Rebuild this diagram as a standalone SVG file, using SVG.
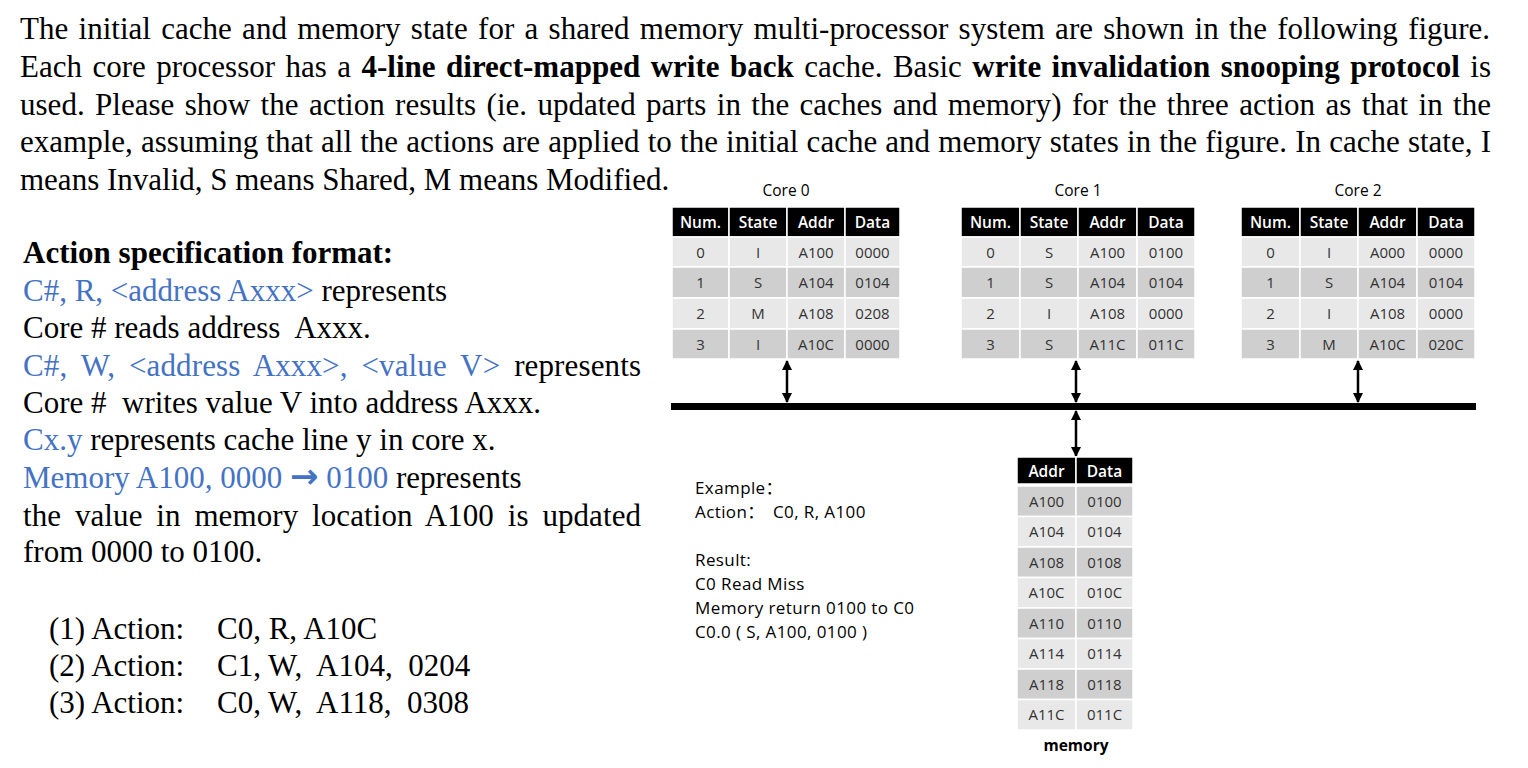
<svg xmlns="http://www.w3.org/2000/svg" width="1528" height="768" viewBox="0 0 1528 768">
<style>
.p{font-family:"Liberation Serif","Times New Roman",serif;font-size:31px;fill:#000}
.b{font-weight:bold}
.bl{fill:#4472C4}
.arw{font-family:"DejaVu Sans",sans-serif;font-weight:bold;font-size:34px}
.hd{fill:#000;stroke:#fff;stroke-width:1.5}
.lt{fill:#e8e8e8;stroke:#fff;stroke-width:1.5}
.dk{fill:#cfcfcf;stroke:#fff;stroke-width:1.5}
.ht{font-family:"Open Sans","Noto Sans CJK SC",sans-serif;font-size:15.5px;font-weight:600;fill:#fff;text-anchor:middle}
.ct{font-family:"Open Sans","Noto Sans CJK SC",sans-serif;font-size:15px;fill:#333;text-anchor:middle}
.tt{font-family:"Open Sans","Noto Sans CJK SC",sans-serif;font-size:15.5px;fill:#000;text-anchor:middle}
.ex{font-family:"Open Sans","Noto Sans CJK SC",sans-serif;font-size:17px;letter-spacing:0.4px;fill:#000}
.ar{stroke:#000;stroke-width:2.5;fill:none;marker-start:url(#ah);marker-end:url(#ah)}
</style>
<defs>
<marker id="ah" viewBox="0 0 10 10" refX="9" refY="5" markerWidth="4" markerHeight="4.4" orient="auto-start-reverse" markerUnits="strokeWidth">
<path d="M0,0 L10,5 L0,10 z" fill="#000"/>
</marker>
</defs>
<rect width="1528" height="768" fill="#fff"/>

<g id="paragraph">
<text class="p" x="20" y="39" word-spacing="2.5" textLength="1470" lengthAdjust="spacing">The initial cache and memory state for a shared memory multi-processor system are shown in the following figure.</text>
<text class="p" x="20" y="77" word-spacing="2.6" textLength="1471" lengthAdjust="spacing">Each core processor has a <tspan class="b">4-line direct-mapped write back</tspan> cache. Basic <tspan class="b">write invalidation snooping protocol</tspan> is</text>
<text class="p" x="20" y="114.5" word-spacing="2.6" textLength="1471" lengthAdjust="spacing">used. Please show the action results (ie. updated parts in the caches and memory) for the three action as that in the</text>
<text class="p" x="20" y="152" word-spacing="0.4" textLength="1471" lengthAdjust="spacing">example, assuming that all the actions are applied to the initial cache and memory states in the figure. In cache state, I</text>
<text class="p" x="20" y="190">means Invalid, S means Shared, M means Modified.</text>
</g>

<g id="spec">
<text class="p b" x="23" y="263">Action specification format:</text>
<text class="p" x="23" y="301"><tspan class="bl">C#, R, &lt;address Axxx&gt;</tspan> represents</text>
<text class="p" x="23" y="338" xml:space="preserve">Core # reads address  Axxx.</text>
<text class="p" x="23" y="376" word-spacing="6" textLength="618" lengthAdjust="spacing"><tspan class="bl">C#, W, &lt;address Axxx&gt;, &lt;value V&gt;</tspan> represents</text>
<text class="p" x="23" y="413" xml:space="preserve">Core #  writes value V into address Axxx.</text>
<text class="p" x="23" y="450"><tspan class="bl">Cx.y</tspan> represents cache line y in core x.</text>
<text class="p" x="23" y="488"><tspan class="bl">Memory A100, 0000 <tspan class="arw">→</tspan> 0100</tspan> represents</text>
<text class="p" x="23" y="526" word-spacing="6" textLength="618" lengthAdjust="spacing">the value in memory location A100 is updated</text>
<text class="p" x="23" y="562">from 0000 to 0100.</text>
</g>

<g id="actions">
<text class="p" x="49" y="639">(1) Action:<tspan x="217">C0, R, A10C</tspan></text>
<text class="p" x="49" y="676" xml:space="preserve">(2) Action:<tspan x="217">C1, W,  A104,  0204</tspan></text>
<text class="p" x="49" y="713" xml:space="preserve">(3) Action:<tspan x="217">C0, W,  A118,  0308</tspan></text>
</g>

<g id="core0">
<text class="tt" x="786" y="196">Core 0</text>
<rect class="hd" x="672" y="207" width="57" height="30"/><rect class="hd" x="729" y="207" width="58" height="30"/><rect class="hd" x="787" y="207" width="58" height="30"/><rect class="hd" x="845" y="207" width="55" height="30"/>
<text class="ht" x="700.5" y="228">Num.</text><text class="ht" x="758" y="228">State</text><text class="ht" x="816" y="228">Addr</text><text class="ht" x="872.5" y="228">Data</text>
<rect class="lt" x="672" y="237" width="57" height="30"/><rect class="lt" x="729" y="237" width="58" height="30"/><rect class="lt" x="787" y="237" width="58" height="30"/><rect class="lt" x="845" y="237" width="55" height="30"/>
<rect class="dk" x="672" y="267" width="57" height="31"/><rect class="dk" x="729" y="267" width="58" height="31"/><rect class="dk" x="787" y="267" width="58" height="31"/><rect class="dk" x="845" y="267" width="55" height="31"/>
<rect class="lt" x="672" y="298" width="57" height="31"/><rect class="lt" x="729" y="298" width="58" height="31"/><rect class="lt" x="787" y="298" width="58" height="31"/><rect class="lt" x="845" y="298" width="55" height="31"/>
<rect class="dk" x="672" y="329" width="57" height="30"/><rect class="dk" x="729" y="329" width="58" height="30"/><rect class="dk" x="787" y="329" width="58" height="30"/><rect class="dk" x="845" y="329" width="55" height="30"/>
<text class="ct" x="700.5" y="257.5">0</text><text class="ct" x="758" y="257.5">I</text><text class="ct" x="816" y="257.5">A100</text><text class="ct" x="872.5" y="257.5">0000</text>
<text class="ct" x="700.5" y="288">1</text><text class="ct" x="758" y="288">S</text><text class="ct" x="816" y="288">A104</text><text class="ct" x="872.5" y="288">0104</text>
<text class="ct" x="700.5" y="319">2</text><text class="ct" x="758" y="319">M</text><text class="ct" x="816" y="319">A108</text><text class="ct" x="872.5" y="319">0208</text>
<text class="ct" x="700.5" y="349.5">3</text><text class="ct" x="758" y="349.5">I</text><text class="ct" x="816" y="349.5">A10C</text><text class="ct" x="872.5" y="349.5">0000</text>
</g>

<g id="core1">
<text class="tt" x="1078" y="196">Core 1</text>
<rect class="hd" x="961" y="207" width="59" height="30"/><rect class="hd" x="1020" y="207" width="58" height="30"/><rect class="hd" x="1078" y="207" width="59" height="30"/><rect class="hd" x="1137" y="207" width="58" height="30"/>
<text class="ht" x="990.5" y="228">Num.</text><text class="ht" x="1049" y="228">State</text><text class="ht" x="1107.5" y="228">Addr</text><text class="ht" x="1166" y="228">Data</text>
<rect class="lt" x="961" y="237" width="59" height="30"/><rect class="lt" x="1020" y="237" width="58" height="30"/><rect class="lt" x="1078" y="237" width="59" height="30"/><rect class="lt" x="1137" y="237" width="58" height="30"/>
<rect class="dk" x="961" y="267" width="59" height="31"/><rect class="dk" x="1020" y="267" width="58" height="31"/><rect class="dk" x="1078" y="267" width="59" height="31"/><rect class="dk" x="1137" y="267" width="58" height="31"/>
<rect class="lt" x="961" y="298" width="59" height="31"/><rect class="lt" x="1020" y="298" width="58" height="31"/><rect class="lt" x="1078" y="298" width="59" height="31"/><rect class="lt" x="1137" y="298" width="58" height="31"/>
<rect class="dk" x="961" y="329" width="59" height="30"/><rect class="dk" x="1020" y="329" width="58" height="30"/><rect class="dk" x="1078" y="329" width="59" height="30"/><rect class="dk" x="1137" y="329" width="58" height="30"/>
<text class="ct" x="990.5" y="257.5">0</text><text class="ct" x="1049" y="257.5">S</text><text class="ct" x="1107.5" y="257.5">A100</text><text class="ct" x="1166" y="257.5">0100</text>
<text class="ct" x="990.5" y="288">1</text><text class="ct" x="1049" y="288">S</text><text class="ct" x="1107.5" y="288">A104</text><text class="ct" x="1166" y="288">0104</text>
<text class="ct" x="990.5" y="319">2</text><text class="ct" x="1049" y="319">I</text><text class="ct" x="1107.5" y="319">A108</text><text class="ct" x="1166" y="319">0000</text>
<text class="ct" x="990.5" y="349.5">3</text><text class="ct" x="1049" y="349.5">S</text><text class="ct" x="1107.5" y="349.5">A11C</text><text class="ct" x="1166" y="349.5">011C</text>
</g>

<g id="core2">
<text class="tt" x="1358" y="196">Core 2</text>
<rect class="hd" x="1241" y="207" width="59" height="30"/><rect class="hd" x="1300" y="207" width="58" height="30"/><rect class="hd" x="1358" y="207" width="59" height="30"/><rect class="hd" x="1417" y="207" width="58" height="30"/>
<text class="ht" x="1270.5" y="228">Num.</text><text class="ht" x="1329" y="228">State</text><text class="ht" x="1387.5" y="228">Addr</text><text class="ht" x="1446" y="228">Data</text>
<rect class="lt" x="1241" y="237" width="59" height="30"/><rect class="lt" x="1300" y="237" width="58" height="30"/><rect class="lt" x="1358" y="237" width="59" height="30"/><rect class="lt" x="1417" y="237" width="58" height="30"/>
<rect class="dk" x="1241" y="267" width="59" height="31"/><rect class="dk" x="1300" y="267" width="58" height="31"/><rect class="dk" x="1358" y="267" width="59" height="31"/><rect class="dk" x="1417" y="267" width="58" height="31"/>
<rect class="lt" x="1241" y="298" width="59" height="31"/><rect class="lt" x="1300" y="298" width="58" height="31"/><rect class="lt" x="1358" y="298" width="59" height="31"/><rect class="lt" x="1417" y="298" width="58" height="31"/>
<rect class="dk" x="1241" y="329" width="59" height="30"/><rect class="dk" x="1300" y="329" width="58" height="30"/><rect class="dk" x="1358" y="329" width="59" height="30"/><rect class="dk" x="1417" y="329" width="58" height="30"/>
<text class="ct" x="1270.5" y="257.5">0</text><text class="ct" x="1329" y="257.5">I</text><text class="ct" x="1387.5" y="257.5">A000</text><text class="ct" x="1446" y="257.5">0000</text>
<text class="ct" x="1270.5" y="288">1</text><text class="ct" x="1329" y="288">S</text><text class="ct" x="1387.5" y="288">A104</text><text class="ct" x="1446" y="288">0104</text>
<text class="ct" x="1270.5" y="319">2</text><text class="ct" x="1329" y="319">I</text><text class="ct" x="1387.5" y="319">A108</text><text class="ct" x="1446" y="319">0000</text>
<text class="ct" x="1270.5" y="349.5">3</text><text class="ct" x="1329" y="349.5">M</text><text class="ct" x="1387.5" y="349.5">A10C</text><text class="ct" x="1446" y="349.5">020C</text>
</g>

<g id="bus">
<rect x="671" y="403" width="805" height="7" fill="#000"/>
</g>

<g id="connectors">
<line class="ar" x1="787" y1="361" x2="787" y2="402"/>
<line class="ar" x1="1076" y1="361" x2="1076" y2="402"/>
<line class="ar" x1="1358" y1="361" x2="1358" y2="402"/>
<line class="ar" x1="1076" y1="411" x2="1076" y2="456"/>
</g>

<g id="memory">
<rect class="hd" x="1017" y="457" width="59" height="27"/><rect class="hd" x="1076" y="457" width="57" height="27"/>
<text class="ht" x="1046.5" y="476.5">Addr</text><text class="ht" x="1104.5" y="476.5">Data</text>
<rect class="dk" x="1017" y="486" width="59" height="30.5"/><rect class="dk" x="1076" y="486" width="57" height="30.5"/>
<rect class="lt" x="1017" y="516.5" width="59" height="30.5"/><rect class="lt" x="1076" y="516.5" width="57" height="30.5"/>
<rect class="dk" x="1017" y="547" width="59" height="30.5"/><rect class="dk" x="1076" y="547" width="57" height="30.5"/>
<rect class="lt" x="1017" y="577.5" width="59" height="30.5"/><rect class="lt" x="1076" y="577.5" width="57" height="30.5"/>
<rect class="dk" x="1017" y="608" width="59" height="30.5"/><rect class="dk" x="1076" y="608" width="57" height="30.5"/>
<rect class="lt" x="1017" y="638.5" width="59" height="30.5"/><rect class="lt" x="1076" y="638.5" width="57" height="30.5"/>
<rect class="dk" x="1017" y="669" width="59" height="30.5"/><rect class="dk" x="1076" y="669" width="57" height="30.5"/>
<rect class="lt" x="1017" y="699.5" width="59" height="30.5"/><rect class="lt" x="1076" y="699.5" width="57" height="30.5"/>
<text class="ct" x="1046.5" y="506.5">A100</text><text class="ct" x="1104.5" y="506.5">0100</text>
<text class="ct" x="1046.5" y="537">A104</text><text class="ct" x="1104.5" y="537">0104</text>
<text class="ct" x="1046.5" y="567.5">A108</text><text class="ct" x="1104.5" y="567.5">0108</text>
<text class="ct" x="1046.5" y="598">A10C</text><text class="ct" x="1104.5" y="598">010C</text>
<text class="ct" x="1046.5" y="628.5">A110</text><text class="ct" x="1104.5" y="628.5">0110</text>
<text class="ct" x="1046.5" y="659">A114</text><text class="ct" x="1104.5" y="659">0114</text>
<text class="ct" x="1046.5" y="689.5">A118</text><text class="ct" x="1104.5" y="689.5">0118</text>
<text class="ct" x="1046.5" y="720">A11C</text><text class="ct" x="1104.5" y="720">011C</text>
<text class="tt" x="1076" y="751" font-weight="bold">memory</text>
</g>

<g id="example">
<text class="ex" x="695" y="494">Example：</text>
<text class="ex" x="695" y="518">Action：<tspan x="773">C0, R, A100</tspan></text>
<text class="ex" x="695" y="566">Result:</text>
<text class="ex" x="695" y="590">C0 Read Miss</text>
<text class="ex" x="695" y="614">Memory return 0100 to C0</text>
<text class="ex" x="695" y="638">C0.0 ( S, A100, 0100 )</text>
</g>
</svg>
